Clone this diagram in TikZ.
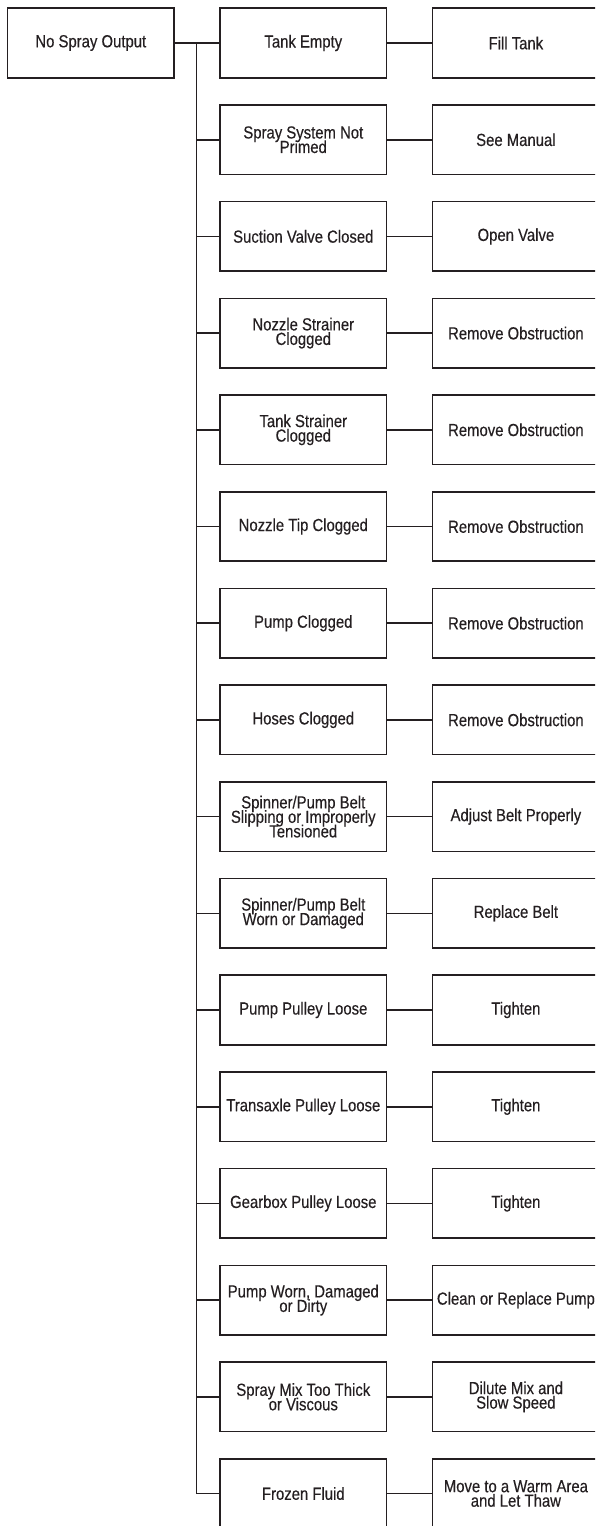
\documentclass[tikz,border=0pt]{standalone}
\usepackage{fontspec}
\setmainfont{Liberation Sans}[FakeStretch=0.85,FakeBold=0.35]
\usetikzlibrary{calc}
\definecolor{inkblack}{rgb}{0.14, 0.12, 0.13}
\def\boxfont{\fontsize{17.5}{14.5}\selectfont\lineskiplimit=-100pt}
\tikzset{
  box/.style={draw=inkblack, line width=1.6pt, rectangle, minimum width=166.5pt, minimum height=69.5pt, inner sep=0pt, align=center, text=inkblack, font=\boxfont},
  link/.style={draw=inkblack, line width=1.6pt}
}

\begin{document}
\begin{tikzpicture}[x=1pt,y=-1pt]
\useasboundingbox (0,0) rectangle (595,1526);
\clip (0,0) rectangle (595,1526);
\node[box] (nso) at (90.8,43) {No Spray Output};
\node[box] (c1) at (303.3,43) {Tank Empty};
\node[box] (c2) at (303.3,139.7) {Spray System Not\\Primed};
\node[box] (c3) at (303.3,236.4) {Suction Valve Closed};
\node[box] (c4) at (303.3,333.1) {Nozzle Strainer\\Clogged};
\node[box] (c5) at (303.3,429.8) {Tank Strainer\\Clogged};
\node[box] (c6) at (303.3,526.5) {Nozzle Tip Clogged};
\node[box] (c7) at (303.3,623.2) {Pump Clogged};
\node[box] (c8) at (303.3,719.9) {Hoses Clogged};
\node[box] (c9) at (303.3,816.6) {Spinner/Pump Belt\\Slipping or Improperly\\Tensioned};
\node[box] (c10) at (303.3,913.3) {Spinner/Pump Belt\\Worn or Damaged};
\node[box] (c11) at (303.3,1010) {Pump Pulley Loose};
\node[box] (c12) at (303.3,1106.7) {Transaxle Pulley Loose};
\node[box] (c13) at (303.3,1203.4) {Gearbox Pulley Loose};
\node[box] (c14) at (303.3,1300.1) {Pump Worn, Damaged\\or Dirty};
\node[box] (c15) at (303.3,1396.8) {Spray Mix Too Thick\\or Viscous};
\node[box] (c16) at (303.3,1493.5) {Frozen Fluid};
\node[box] (r1) at (515.9,43) {Fill Tank};
\node[box] (r2) at (515.9,139.7) {See Manual};
\node[box] (r3) at (515.9,236.4) {Open Valve};
\node[box] (r4) at (515.9,333.1) {Remove Obstruction};
\node[box] (r5) at (515.9,429.8) {Remove Obstruction};
\node[box] (r6) at (515.9,526.5) {Remove Obstruction};
\node[box] (r7) at (515.9,623.2) {Remove Obstruction};
\node[box] (r8) at (515.9,719.9) {Remove Obstruction};
\node[box] (r9) at (515.9,816.6) {Adjust Belt Properly};
\node[box] (r10) at (515.9,913.3) {Replace Belt};
\node[box] (r11) at (515.9,1010) {Tighten};
\node[box] (r12) at (515.9,1106.7) {Tighten};
\node[box] (r13) at (515.9,1203.4) {Tighten};
\node[box] (r14) at (515.9,1300.1) {Clean or Replace Pump};
\node[box] (r15) at (515.9,1396.8) {Dilute Mix and\\Slow Speed};
\node[box] (r16) at (515.9,1493.5) {Move to a Warm Area\\and Let Thaw};
\coordinate (tt) at (196.5,43);
\coordinate (tb) at (196.5,1493.5);
\draw[link] (nso)--(c1);
\draw[link] (tt)--(tb)--(c16);
\draw[link] (c2.west -| tt)--(c2);
\draw[link] (c3.west -| tt)--(c3);
\draw[link] (c4.west -| tt)--(c4);
\draw[link] (c5.west -| tt)--(c5);
\draw[link] (c6.west -| tt)--(c6);
\draw[link] (c7.west -| tt)--(c7);
\draw[link] (c8.west -| tt)--(c8);
\draw[link] (c9.west -| tt)--(c9);
\draw[link] (c10.west -| tt)--(c10);
\draw[link] (c11.west -| tt)--(c11);
\draw[link] (c12.west -| tt)--(c12);
\draw[link] (c13.west -| tt)--(c13);
\draw[link] (c14.west -| tt)--(c14);
\draw[link] (c15.west -| tt)--(c15);
\draw[link] (c1)--(r1);
\draw[link] (c2)--(r2);
\draw[link] (c3)--(r3);
\draw[link] (c4)--(r4);
\draw[link] (c5)--(r5);
\draw[link] (c6)--(r6);
\draw[link] (c7)--(r7);
\draw[link] (c8)--(r8);
\draw[link] (c9)--(r9);
\draw[link] (c10)--(r10);
\draw[link] (c11)--(r11);
\draw[link] (c12)--(r12);
\draw[link] (c13)--(r13);
\draw[link] (c14)--(r14);
\draw[link] (c15)--(r15);
\draw[link] (c16)--(r16);
\end{tikzpicture}
\end{document}
